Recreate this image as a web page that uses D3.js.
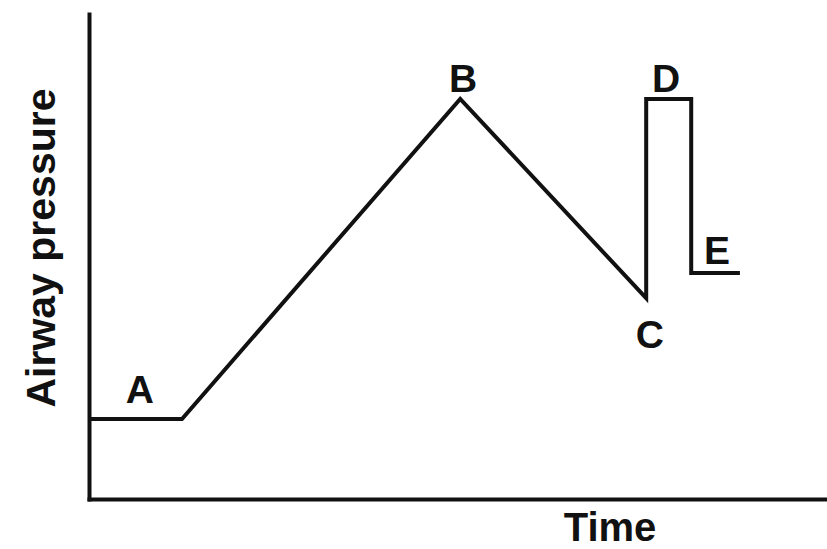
<!DOCTYPE html>
<html>
<head>
<meta charset="utf-8">
<script src="https://cdn.jsdelivr.net/npm/d3@7"></script>
<style>
  body { margin: 0; background: #fff; }
  text { font-family: "Liberation Sans", Arial, sans-serif; font-weight: bold; fill: #111; }
</style>
</head>
<body>
<div id="chart-area"></div>
<script>
// Trace values (time and pressure in arbitrary units 0-100)
var times     = [0, 12.6, 50.3, 75.5, 75.5, 81.6, 81.6, 88.2];
var pressures = [16.5, 16.5, 82.5, 41.4, 82.5, 82.5, 46.6, 46.6];

// Point labels
var labelNames     = ["A", "B", "C", "D", "E"];
var labelTimes     = [6.9, 50.7, 76.0, 78.2, 85.1];
var labelPressures = [19.8, 83.9, 31.1, 83.9, 48.5];

var width = 827, height = 549;
var margin = { left: 89, top: 14, right: 0, bottom: 50 };

var svg = d3.select("#chart-area")
  .append("svg")
  .attr("width", width)
  .attr("height", height);

var xScale = d3.scaleLinear()
  .domain([0, 100])
  .range([margin.left, width - margin.right]);

var yScale = d3.scaleLinear()
  .domain([0, 100])
  .range([height - margin.bottom, margin.top]);

/* Axes without ticks */
var xAxisGroup = svg.append("g")
  .attr("transform", "translate(0," + yScale(0) + ")")
  .call(d3.axisBottom(xScale).ticks(0).tickSizeOuter(0));

var yAxisGroup = svg.append("g")
  .attr("transform", "translate(" + xScale(0) + ",0)")
  .call(d3.axisLeft(yScale).ticks(0).tickSizeOuter(0));

svg.selectAll(".domain")
  .attr("stroke", "#111")
  .attr("stroke-width", 4)
  .attr("stroke-linecap", "square");

/* Pressure trace */
var line = d3.line()
  .x(function (d, i) { return xScale(times[i]); })
  .y(function (d) { return yScale(d); });

svg.append("path")
  .datum(pressures)
  .attr("d", line)
  .attr("fill", "none")
  .attr("stroke", "#111")
  .attr("stroke-width", 4)
  .attr("stroke-linejoin", "miter");

/* Point labels */
svg.selectAll(".point-label")
  .data(labelNames).enter()
  .append("text")
  .attr("class", "point-label")
  .attr("x", function (d, i) { return xScale(labelTimes[i]); })
  .attr("y", function (d, i) { return yScale(labelPressures[i]); })
  .attr("text-anchor", "middle")
  .attr("font-size", "39px")
  .text(function (d) { return d; });

/* Axis labels */
svg.append("text")
  .attr("x", 610)
  .attr("y", 541)
  .attr("text-anchor", "middle")
  .attr("font-size", "40px")
  .text("Time");

svg.append("text")
  .attr("transform", "translate(55,248) rotate(-90)")
  .attr("text-anchor", "middle")
  .attr("font-size", "41px")
  .text("Airway pressure");
</script>
</body>
</html>
